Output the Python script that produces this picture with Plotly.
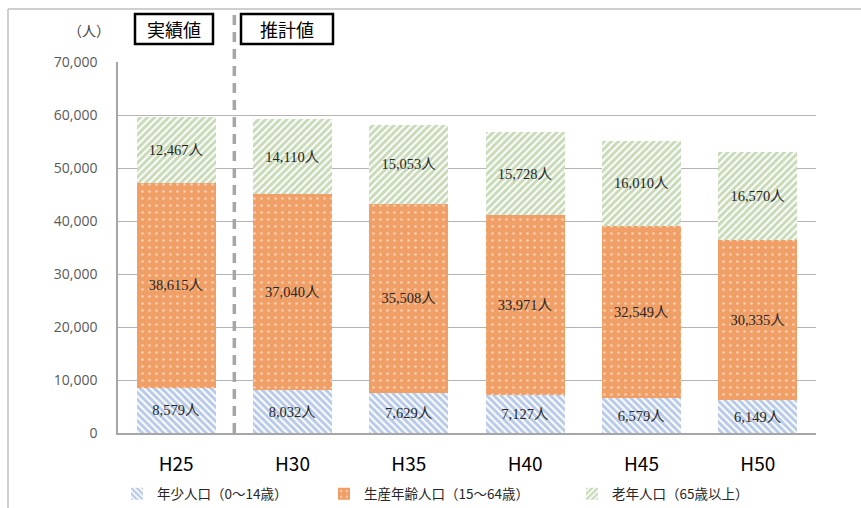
import plotly.graph_objects as go

# Population by age group (persons), actual H25 and projections H30-H50
categories = ["H25", "H30", "H35", "H40", "H45", "H50"]
young = [8579, 8032, 7629, 7127, 6579, 6149]          # 年少人口 (0～14歳)
working = [38615, 37040, 35508, 33971, 32549, 30335]  # 生産年齢人口 (15～64歳)
elderly = [12467, 14110, 15053, 15728, 16010, 16570]  # 老年人口 (65歳以上)

series_names = ["年少人口（0～14歳）", "生産年齢人口（15～64歳）", "老年人口（65歳以上）"]
y_ticks = [0, 10000, 20000, 30000, 40000, 50000, 60000, 70000]

W, H = 861, 508
L, R, T, B = 118, 816, 62, 433


def px(x):
    return (x - L) / (R - L)


def py(y):
    return (B - y) / (B - T)


label_font = dict(family="Liberation Serif, Noto Sans CJK JP", size=14.5, color="#262626")
cjk = "Noto Sans CJK JP"


def bar(values, name, pattern, legend):
    return go.Bar(
        x=categories,
        y=values,
        name=name,
        legend=legend,
        text=[f"{v:,}人" for v in values],
        textposition="inside",
        insidetextanchor="middle",
        textangle=0,
        constraintext="none",
        textfont=label_font,
        marker=dict(line=dict(width=0), pattern=pattern),
        hoverinfo="skip",
    )


fig = go.Figure()
fig.add_trace(bar(young, series_names[0],
                  dict(shape="\\", fgcolor="#7196D2", bgcolor="#FFFFFF", size=5, solidity=0.6),
                  "legend"))
fig.add_trace(bar(working, series_names[1],
                  dict(shape=".", fgcolor="#FFFFFF", bgcolor="#F09F66", size=7, solidity=0.12),
                  "legend2"))
fig.add_trace(bar(elderly, series_names[2],
                  dict(shape="/", fgcolor="#92B571", bgcolor="#FFFFFF", size=5, solidity=0.6),
                  "legend3"))

shapes = [
    # outer chart frame (top and left edges)
    dict(type="line", xref="paper", yref="paper", x0=px(8), x1=px(870), y0=py(9), y1=py(9),
         line=dict(color="#BFBFBF", width=1.5)),
    dict(type="line", xref="paper", yref="paper", x0=px(8), x1=px(8), y0=py(9), y1=py(520),
         line=dict(color="#BFBFBF", width=1.5)),
    # divider between actual and projected values
    dict(type="line", xref="x", yref="paper", x0=0.5, x1=0.5, y0=0, y1=py(10),
         line=dict(color="#A6A6A6", width=3.5, dash="10px,7px")),
    # label boxes
    dict(type="rect", xref="paper", yref="paper", x0=px(135), x1=px(213), y0=py(44), y1=py(14),
         line=dict(color="#000000", width=2.5), fillcolor="#FFFFFF"),
    dict(type="rect", xref="paper", yref="paper", x0=px(241), x1=px(333), y0=py(44), y1=py(14),
         line=dict(color="#000000", width=2.5), fillcolor="#FFFFFF"),
]

annotations = [
    dict(text="実績値", xref="paper", yref="paper", x=px(174), y=py(29), showarrow=False,
         xanchor="center", yanchor="middle",
         font=dict(family=cjk, size=18, color="#000000")),
    dict(text="推計値", xref="paper", yref="paper", x=px(287), y=py(29), showarrow=False,
         xanchor="center", yanchor="middle",
         font=dict(family=cjk, size=18, color="#000000")),
    dict(text="（人）", xref="paper", yref="paper", x=px(112), y=py(30), showarrow=False,
         xanchor="right", yanchor="middle",
         font=dict(family=cjk, size=14, color="#404040")),
]


def legend_at(x_px):
    return dict(
        orientation="h",
        x=px(x_px), xanchor="left",
        y=py(494), yanchor="middle",
        font=dict(family=cjk, size=13.5, color="#262626"),
        itemclick=False, itemdoubleclick=False,
        bgcolor="rgba(0,0,0,0)",
    )


fig.update_layout(
    width=W,
    height=H,
    margin=dict(l=L, r=W - R, t=T, b=H - B, pad=0, autoexpand=False),
    paper_bgcolor="#FFFFFF",
    plot_bgcolor="#FFFFFF",
    barmode="stack",
    bargap=0.32,
    shapes=shapes,
    annotations=annotations,
    showlegend=True,
    legend=legend_at(117),
    legend2=legend_at(324),
    legend3=legend_at(572),
    xaxis=dict(
        showline=True, linecolor="#A6A6A6", linewidth=1.5,
        showgrid=False,
        ticks="outside", ticklen=13, tickcolor="rgba(0,0,0,0)",
        tickfont=dict(family=cjk, size=19, color="#000000"),
    ),
    yaxis=dict(
        range=[0, 70000],
        tickvals=y_ticks,
        ticktext=[f"{v:,}" for v in y_ticks],
        showline=True, linecolor="#A6A6A6", linewidth=1.5,
        showgrid=True, gridcolor="#B4B4B4", gridwidth=1.2,
        zeroline=False,
        ticks="outside", ticklen=16, tickcolor="rgba(0,0,0,0)",
        tickfont=dict(family="Open Sans", size=14, color="#595959"),
    ),
    font=dict(family=cjk),
)

fig.write_html("out.html")
